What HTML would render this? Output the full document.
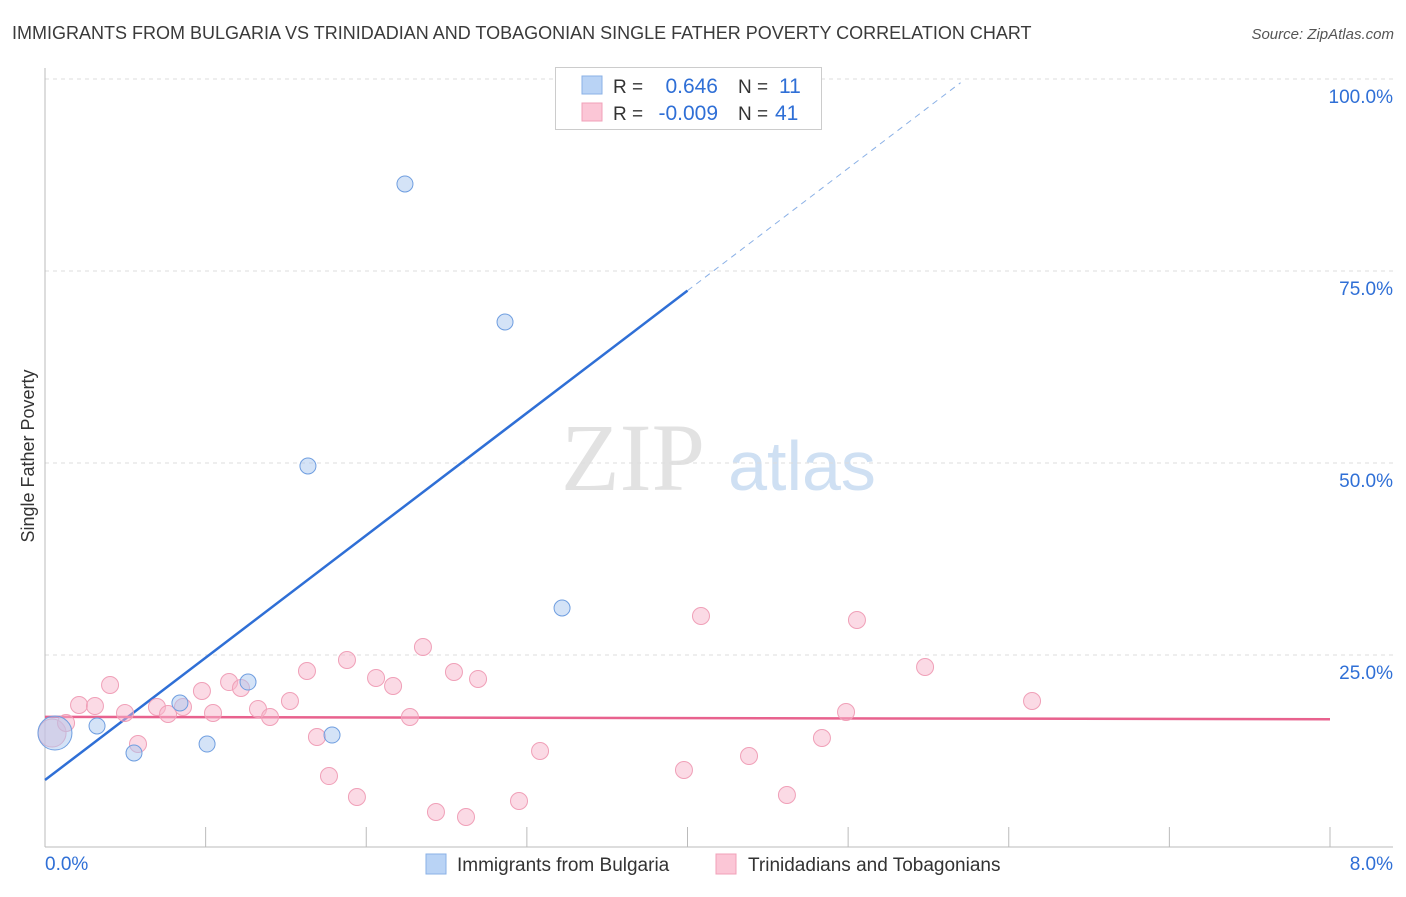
<!DOCTYPE html>
<html><head><meta charset="utf-8"><style>
body{margin:0;background:#fff;font-family:"Liberation Sans",sans-serif;}
svg text{font-family:"Liberation Sans",sans-serif;}
</style></head><body>
<svg id="chart" width="1406" height="892" xmlns="http://www.w3.org/2000/svg">
<text x="12" y="39" font-size="18" fill="#3a3a3a">IMMIGRANTS FROM BULGARIA VS TRINIDADIAN AND TOBAGONIAN SINGLE FATHER POVERTY CORRELATION CHART</text>
<text x="1394" y="39" font-size="15" fill="#555" font-style="italic" text-anchor="end">Source: ZipAtlas.com</text>
<text x="34" y="456" font-size="18" fill="#333" text-anchor="middle" transform="rotate(-90 34 456)">Single Father Poverty</text>
<g>
<text x="633" y="490" font-size="96" font-family="Liberation Serif" fill="#e2e2e2" text-anchor="middle" style="font-family:'Liberation Serif',serif">ZIP</text>
<text x="802" y="490" font-size="70" fill="#cfe0f3" text-anchor="middle">atlas</text>
</g>
<g id="grid"></g><g id="axes"></g><g id="lines"></g><g id="pts"></g>
<g>
<rect x="555.5" y="67.5" width="266" height="62" fill="#fff" stroke="#ccc"/>
<rect x="582" y="76" width="20" height="18" fill="#b9d3f5" stroke="#8ab0e6"/>
<rect x="582" y="103" width="20" height="18" fill="#fbc6d6" stroke="#f0a0b8"/>
<text x="613" y="93" font-size="19" fill="#333">R =</text><text x="718" y="93" font-size="21" fill="#2f6fd6" text-anchor="end">0.646</text>
<text x="738" y="93" font-size="19" fill="#333">N =</text><text x="779" y="93" font-size="21" fill="#2f6fd6">11</text>
<text x="613" y="120" font-size="19" fill="#333">R =</text><text x="718" y="120" font-size="21" fill="#2f6fd6" text-anchor="end">-0.009</text>
<text x="738" y="120" font-size="19" fill="#333">N =</text><text x="775" y="120" font-size="21" fill="#2f6fd6">41</text>
</g>
<g>
<rect x="426" y="854" width="20" height="20" fill="#b9d3f5" stroke="#8ab0e6"/>
<text x="457" y="871" font-size="19" fill="#333">Immigrants from Bulgaria</text>
<rect x="716" y="854" width="20" height="20" fill="#fbc6d6" stroke="#f0a0b8"/>
<text x="748" y="871" font-size="19" fill="#333">Trinidadians and Tobagonians</text>
</g>
</svg>
<script>
const blueX=[0.062,0.324,0.554,0.840,1.009,1.264,1.787,1.637,2.241,2.864,3.219];
const blueY=[14.84,15.76,12.24,18.75,13.41,21.48,14.58,49.61,86.33,68.36,31.12];
const pinkX=[0.044,0.131,0.212,0.311,0.405,0.498,0.579,0.697,0.766,0.859,0.977,1.046,1.146,1.220,1.326,1.401,1.525,1.631,1.693,1.768,1.880,1.942,2.061,2.167,2.272,2.353,2.434,2.546,2.621,2.696,2.951,3.082,3.978,4.084,4.383,4.619,4.837,4.987,5.055,5.479,6.145];
const pinkY=[14.84,16.15,18.49,18.36,21.09,17.45,13.41,18.23,17.32,18.23,20.31,17.45,21.48,20.70,17.97,16.93,19.01,22.92,14.32,9.24,24.35,6.51,22.01,20.96,16.93,26.04,4.56,22.79,3.91,21.88,5.99,12.50,10.03,30.08,11.85,6.77,14.19,17.58,29.56,23.44,19.01];
const blueTrend=[8.72,15.93];
const pinkTrend=[16.95,-0.04];
const yTicks=[25,50,75,100];
const yTickLabels=["25.0%","50.0%","75.0%","100.0%"];
const xTicks=[0,1,2,3,4,5,6,7,8];
const NS="http://www.w3.org/2000/svg";
const sx=v=>45+v*160.625, sy=v=>847-v*7.68;
function mk(tag,attrs,parent){const e=document.createElementNS(NS,tag);for(const k in attrs)e.setAttribute(k,attrs[k]);document.getElementById(parent).appendChild(e);return e;}
yTicks.forEach((t,i)=>{
 const g=mk('line',{x1:45,x2:1393,y1:sy(t),y2:sy(t),stroke:'#ddd','stroke-dasharray':'4,4'},'grid');
 
 
 const l=mk('text',{x:1393,y:sy(t)+24,'font-size':19,fill:'#2f6fd6','text-anchor':'end'},'grid');
 l.textContent=yTickLabels[i];
 
 
});
const ya=mk('line',{x1:45,x2:45,y1:68,y2:847,stroke:'#bbb'},'axes');


const xa=mk('line',{x1:45,x2:1393,y1:847,y2:847,stroke:'#bbb'},'axes');


xTicks.forEach(t=>{const e=mk('line',{x1:sx(t),x2:sx(t),y1:827,y2:847,stroke:'#bbb'},'axes');
 
 });
const x0=mk('text',{x:45,y:870,'font-size':19,fill:'#2f6fd6'},'axes');x0.textContent='0.0%';


const x8=mk('text',{x:1393,y:870,'font-size':19,fill:'#2f6fd6','text-anchor':'end'},'axes');x8.textContent='8.0%';


const bt=v=>blueTrend[0]+blueTrend[1]*v, pt=v=>pinkTrend[0]+pinkTrend[1]*v;
const b1=mk('line',{x1:sx(0),y1:sy(bt(0)),x2:sx(4.0),y2:sy(bt(4.0)),stroke:'#2f6fd6','stroke-width':2.5},'lines');


const b2=mk('line',{x1:sx(4.0),y1:sy(bt(4.0)),x2:sx(5.7),y2:sy(bt(5.7)),stroke:'#8ab0e6','stroke-width':1,'stroke-dasharray':'6,5'},'lines');


const p1=mk('line',{x1:sx(0),y1:sy(pt(0)),x2:sx(8),y2:sy(pt(8)),stroke:'#e8628e','stroke-width':2.5},'lines');


pinkX.forEach((x,i)=>{const c=mk('circle',{cx:sx(x),cy:sy(pinkY[i]),r:i==0?14:8.5,fill:'rgba(248,182,204,0.5)',stroke:'#f0a0b8','stroke-width':1},'pts');
 
 });
blueX.forEach((x,i)=>{const c=mk('circle',{cx:sx(x),cy:sy(blueY[i]),r:i==0?17:8,fill:'rgba(170,200,240,0.5)',stroke:'#6f9ee0','stroke-width':1},'pts');
 
 });
</script>
</body></html>
